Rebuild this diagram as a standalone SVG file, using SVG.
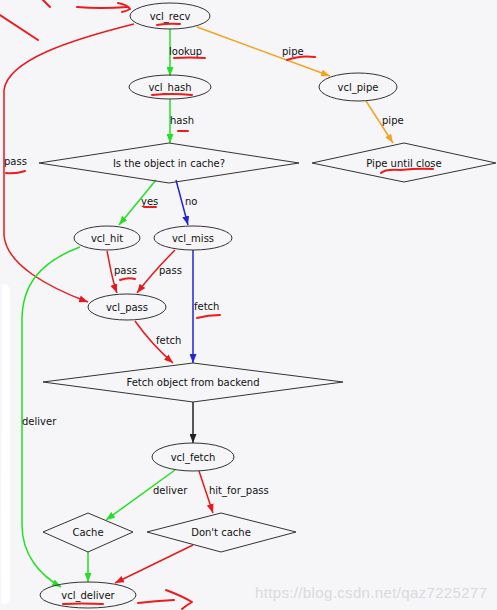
<svg xmlns="http://www.w3.org/2000/svg" width="497" height="610" viewBox="0 0 497 610">
<style>
text{font-family:"DejaVu Sans","Noto Sans",sans-serif;font-size:10px;fill:#111}
.n{fill:none;stroke:#333;stroke-width:1}
.c{text-anchor:middle}
.e{fill:none;stroke-width:1.5}
.g{stroke:#22e022}.r{stroke:#e8191b}.o{stroke:#f2a31f}.b{stroke:#2424d8}.k{stroke:#222}
.s{fill:none;stroke:#ec1c1c;stroke-width:2;stroke-linecap:round;stroke-linejoin:round}
</style>
<defs>
<marker id="ag" markerUnits="userSpaceOnUse" markerWidth="9" markerHeight="7" refX="9" refY="3.5" orient="auto"><path d="M0,0L9,3.5L0,7z" fill="#22e022"/></marker>
<marker id="ar" markerUnits="userSpaceOnUse" markerWidth="9" markerHeight="7" refX="9" refY="3.5" orient="auto"><path d="M0,0L9,3.5L0,7z" fill="#e8191b"/></marker>
<marker id="ao" markerUnits="userSpaceOnUse" markerWidth="9" markerHeight="7" refX="9" refY="3.5" orient="auto"><path d="M0,0L9,3.5L0,7z" fill="#f2a31f"/></marker>
<marker id="ab" markerUnits="userSpaceOnUse" markerWidth="9" markerHeight="7" refX="9" refY="3.5" orient="auto"><path d="M0,0L9,3.5L0,7z" fill="#2424d8"/></marker>
<marker id="ak" markerUnits="userSpaceOnUse" markerWidth="9" markerHeight="7" refX="9" refY="3.5" orient="auto"><path d="M0,0L9,3.5L0,7z" fill="#222"/></marker>
</defs>
<rect width="497" height="610" fill="#f6f6f8"/>
<path d="M2,285 Q8,282 10,290 L10,600 Q6,606 1,603 Z" fill="#ffffff"/>
<text x="255" y="598" style="font-family:'Liberation Sans',Arial,sans-serif;font-size:15px;fill:#d9d9de" textLength="232">https://blog.csdn.net/qaz7225277</text>

<g id="connectors">
<path class="e g" d="M170,29L170,76" marker-end="url(#ag)"/>
<text x="169" y="55">lookup</text>
<path class="e g" d="M170,99L170,143" marker-end="url(#ag)"/>
<text x="170" y="124">hash</text>
<path class="e o" d="M197,27L330,76" marker-end="url(#ao)"/>
<text x="282" y="55">pipe</text>
<path class="e o" d="M366,101L393,143" marker-end="url(#ao)"/>
<text x="382" y="124">pipe</text>
<path class="e r" d="M134,24C70,40 8,60 4,90L4,235C6,265 50,288 88,302" marker-end="url(#ar)"/>
<text x="4" y="165">pass</text>
<path class="e g" d="M156,180L119,225" marker-end="url(#ag)"/>
<text x="141" y="205">yes</text>
<path class="e b" d="M176,180L188,225" marker-end="url(#ab)"/>
<text x="185" y="205">no</text>
<path class="e r" d="M107,251C110,265 112,280 117,293" marker-end="url(#ar)"/>
<text x="114" y="274">pass</text>
<path class="e r" d="M175,250C160,265 147,280 137,293" marker-end="url(#ar)"/>
<text x="159" y="274">pass</text>
<path class="e g" d="M80,247C40,262 22,285 22,320L22,525C22,555 40,575 61,587" marker-end="url(#ag)"/>
<text x="22" y="425">deliver</text>
<path class="e b" d="M193,250L193,363" marker-end="url(#ab)"/>
<text x="194" y="310">fetch</text>
<path class="e r" d="M135,321C145,335 158,350 173,363" marker-end="url(#ar)"/>
<text x="156" y="344">fetch</text>
<path class="e k" d="M193,402L193,443" marker-end="url(#ak)"/>
<path class="e g" d="M175,470L106,520" marker-end="url(#ag)"/>
<text x="153" y="494">deliver</text>
<path class="e r" d="M199,471L213,513" marker-end="url(#ar)"/>
<text x="209" y="494">hit_for_pass</text>
<path class="e g" d="M88,552L88,582" marker-end="url(#ag)"/>
<path class="e r" d="M193,545L115,583" marker-end="url(#ar)"/>
</g>

<g id="vcl_recv"><ellipse class="n" cx="170" cy="16" rx="40" ry="13"/><text class="c" x="170" y="20">vcl_recv</text></g>
<g id="vcl_hash"><ellipse class="n" cx="170" cy="87" rx="41" ry="12"/><text class="c" x="170" y="91">vcl_hash</text></g>
<g id="vcl_pipe"><ellipse class="n" cx="358" cy="87" rx="39" ry="14"/><text class="c" x="358" y="91">vcl_pipe</text></g>
<g id="in_cache"><polygon class="n" points="39,163 169,143 299,163 169,183"/><text class="c" x="169" y="167">Is the object in cache?</text></g>
<g id="pipe_until_close"><polygon class="n" points="312,163 404,143 496,163 404,182"/><text class="c" x="404" y="167">Pipe until close</text></g>
<g id="vcl_hit"><ellipse class="n" cx="107" cy="238" rx="33" ry="12"/><text class="c" x="107" y="242">vcl_hit</text></g>
<g id="vcl_miss"><ellipse class="n" cx="193" cy="238" rx="39" ry="12"/><text class="c" x="193" y="242">vcl_miss</text></g>
<g id="vcl_pass"><ellipse class="n" cx="127" cy="307" rx="39" ry="13"/><text class="c" x="127" y="311">vcl_pass</text></g>
<g id="fetch_backend"><polygon class="n" points="43,382 193,363 343,382 193,402"/><text class="c" x="193" y="386">Fetch object from backend</text></g>
<g id="vcl_fetch"><ellipse class="n" cx="193" cy="457" rx="41" ry="14"/><text class="c" x="193" y="461">vcl_fetch</text></g>
<g id="cache"><polygon class="n" points="43,532 88,513 133,532 88,552"/><text class="c" x="88" y="536">Cache</text></g>
<g id="dont_cache"><polygon class="n" points="147,532 221,513 296,532 221,552"/><text class="c" x="221" y="536">Don't cache</text></g>
<g id="vcl_deliver"><ellipse class="n" cx="88" cy="595" rx="48" ry="13"/><text class="c" x="88" y="599">vcl_deliver</text></g>

<g id="annotations">
<path class="s" d="M77,7Q100,9 128,7"/>
<path class="s" d="M118,3Q128,5 130,9Q127,11 122,12"/>
<path class="s" d="M43,0L50,7"/>
<path class="s" d="M0,15L38,40"/>
<path class="s" d="M157,25Q168,23 180,24"/>
<path class="s" d="M174,58Q190,57 205,58"/>
<path class="s" d="M152,95Q172,93 192,95"/>
<path class="s" d="M178,131L188,131"/>
<path class="s" d="M6,173Q16,174 25,171"/>
<path class="s" d="M287,60Q300,55 315,57"/>
<path class="s" d="M381,173Q385,169 400,170Q420,168 433,169"/>
<path class="s" d="M144,207L156,207"/>
<path class="s" d="M120,280Q128,277 135,279"/>
<path class="s" d="M197,318Q208,315 220,315"/>
<path class="s" d="M63,604Q83,603 103,604"/>
<path class="s" d="M138,603Q155,601 174,600"/>
<path class="s" d="M166,590Q182,596 192,602Q187,605 182,609"/>
</g>
</svg>
